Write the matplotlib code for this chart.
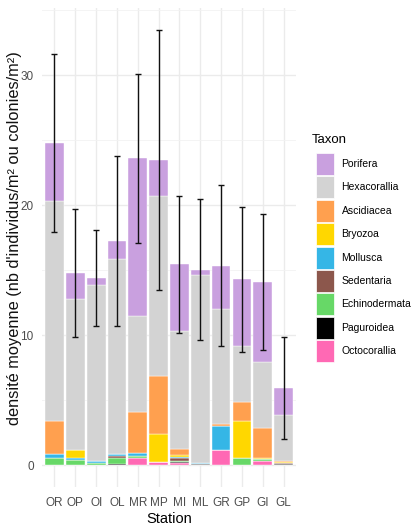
import matplotlib
matplotlib.use("Agg")
import matplotlib.pyplot as plt
from matplotlib.patches import Rectangle
import numpy as np

plt.rcParams["font.family"] = ["Liberation Sans", "DejaVu Sans"]

# Stations along the x axis
stations = ["OR", "OP", "OI", "OL", "MR", "MP", "MI", "ML", "GR", "GP", "GI", "GL"]

# Mean density per taxon and station (stacked from bottom to top)
octocorallia = [0, 0, 0, 0, 0.59, 0.28, 0.20, 0, 1.20, 0, 0.30, 0]
paguroidea = [0, 0, 0.05, 0.10, 0, 0, 0.05, 0.12, 0, 0, 0, 0.08]
echinodermata = [0.56, 0.44, 0.13, 0.46, 0.10, 0, 0.04, 0, 0, 0.59, 0.15, 0]
sedentaria = [0, 0, 0, 0.13, 0, 0, 0.30, 0, 0, 0, 0, 0.10]
mollusca = [0.31, 0.15, 0.13, 0.15, 0.28, 0, 0.06, 0.08, 1.80, 0, 0, 0]
bryozoa = [0, 0.56, 0, 0, 0, 2.10, 0.15, 0, 0, 2.80, 0.13, 0.10]
ascidiacea = [2.50, 0.05, 0, 0, 3.10, 4.50, 0.45, 0, 0.18, 1.50, 2.30, 0.05]
hexacorallia = [16.93, 11.60, 13.59, 15.01, 7.43, 13.82, 9.05, 14.40, 8.87, 4.31, 5.07, 3.57]
porifera = [4.50, 2.00, 0.50, 1.40, 12.10, 2.80, 5.15, 0.45, 3.30, 5.10, 6.15, 2.05]

# Standard deviation of the total density per station
sd_total = [6.85, 4.90, 3.70, 6.55, 6.50, 10.00, 5.30, 5.45, 6.20, 5.60, 5.20, 3.90]

# Legend order (top to bottom); stacking goes the reverse way
taxa = ["Porifera", "Hexacorallia", "Ascidiacea", "Bryozoa", "Mollusca",
        "Sedentaria", "Echinodermata", "Paguroidea", "Octocorallia"]
series = {
    "Porifera": porifera, "Hexacorallia": hexacorallia, "Ascidiacea": ascidiacea,
    "Bryozoa": bryozoa, "Mollusca": mollusca, "Sedentaria": sedentaria,
    "Echinodermata": echinodermata, "Paguroidea": paguroidea,
    "Octocorallia": octocorallia,
}
colors = {
    "Porifera": "#C9A0DF", "Hexacorallia": "#D3D3D3", "Ascidiacea": "#FFA04F",
    "Bryozoa": "#FFD700", "Mollusca": "#35B6E6", "Sedentaria": "#8C574C",
    "Echinodermata": "#67D867", "Paguroidea": "#000000", "Octocorallia": "#FF69B4",
}

W, H = 413, 525
fig = plt.figure(figsize=(W / 100, H / 100), dpi=100)
fig.patch.set_facecolor("white")

left, right, top, bottom = 42, 296, 8, 487
ax = fig.add_axes([left / W, 1 - bottom / H, (right - left) / W, (bottom - top) / H])

x = np.arange(len(stations))
cum = np.zeros(len(stations))
for name in reversed(taxa):
    vals = np.array(series[name], dtype=float)
    ax.bar(x, vals, bottom=cum, width=0.9, color=colors[name],
           edgecolor="white", linewidth=0.3, zorder=3)
    cum += vals

ax.errorbar(x, cum, yerr=sd_total, fmt="none", ecolor="#111111",
            elinewidth=1.0, capsize=2.3, capthick=1.0, zorder=4)

hi = float(np.max(cum + np.array(sd_total)))
pad = 0.05 * hi
ax.set_ylim(-pad, hi + pad)
ax.set_xlim(-0.6, len(stations) - 0.4)

ax.set_yticks([0, 10, 20, 30])
ax.set_yticks([5, 15, 25, 35], minor=True)
ax.set_xticks(x)
ax.set_xticklabels(stations)
ax.grid(True, which="major", color="#EBEBEB", linewidth=1.0, zorder=0)
ax.grid(True, which="minor", axis="y", color="#F2F2F2", linewidth=0.6, zorder=0)
ax.set_axisbelow(True)
for s in ax.spines.values():
    s.set_visible(False)
ax.tick_params(axis="both", which="both", length=0, labelcolor="#4D4D4D",
               labelsize=8.5)
ax.tick_params(axis="x", pad=7)
ax.tick_params(axis="y", pad=6)

ax.set_xlabel("Station", fontsize=10.5, color="black")
ax.xaxis.set_label_coords(0.5, -0.066)
ax.xaxis.label.set_va("center")
ax.set_ylabel("densité moyenne (nb d'individus/m² ou colonies/m²)",
              fontsize=11.8, color="#111111")
ax.yaxis.set_label_coords(-0.11, 0.52)
ax.yaxis.label.set_va("center")

# Legend drawn in figure pixel coordinates
lax = fig.add_axes([0, 0, 1, 1])
lax.set_xlim(0, W)
lax.set_ylim(H, 0)
lax.axis("off")
lax.text(312, 140, "Taxon", fontsize=9.5, va="center", ha="left", color="black")
key_top, key_step, key_h, key_w, key_x = 153, 23.4, 22, 18.6, 315.7
for i, name in enumerate(taxa):
    y0 = key_top + i * key_step
    lax.add_patch(Rectangle((key_x, y0), key_w, key_h, facecolor=colors[name],
                            edgecolor="white", linewidth=0.5))
    lax.text(341.5, y0 + key_h / 2, name, fontsize=7.5, va="center",
             ha="left", color="black")

fig.savefig("out.png", dpi=100)
